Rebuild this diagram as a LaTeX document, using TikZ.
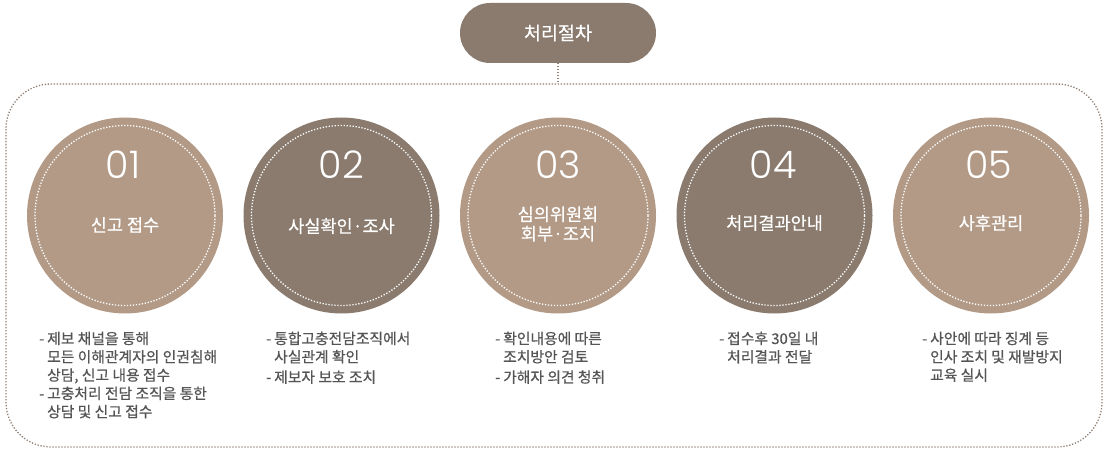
\documentclass[tikz,border=0pt]{standalone}
\usepackage{fontspec}
\setmainfont{Noto Sans CJK KR}
\newfontfamily\medfont{Noto Sans CJK KR}[FakeBold=0.6]
\newfontfamily\numfont{Poppins}[UprightFont={* Light}]
\definecolor{lightc}{HTML}{B29A87}
\definecolor{darkc}{HTML}{8A7B6E}
\definecolor{pillc}{HTML}{8B7B6E}
\definecolor{framec}{HTML}{8F8075}
\definecolor{txtc}{HTML}{555555}
\newcommand{\dsh}{\makebox[8pt][l]{-}}
\begin{document}
\begin{tikzpicture}[x=1pt,y=-1pt,
  frame/.style={draw=framec,line width=1.3pt,dash pattern=on 1.3pt off 1.7pt},
  disc/.style={circle,minimum size=196pt,inner sep=0pt},
  ring/.style={draw=white,line width=1.3pt,dash pattern=on 1.3pt off 1.7pt},
  numtxt/.style={text=white,font=\numfont\fontsize{38}{38}\selectfont,inner sep=0pt},
  labtxt/.style={text=white,font=\medfont\fontsize{17.5}{19.5}\selectfont,align=center,inner sep=0pt},
  desc/.style={anchor=north west,inner sep=0pt,text=txtc,font=\medfont\fontsize{14.8}{18.3}\selectfont}
]
\useasboundingbox (0,0) rectangle (1108,457);
% frame
\draw[frame,rounded corners=45pt] (6,84) rectangle (1102,447);
% header pill
\node[fill=pillc,rounded corners=30pt,minimum width=196pt,minimum height=60pt,
  text=white,font=\medfont\fontsize{18.5}{20}\selectfont] (head) at (558,33) {처리절차};
\coordinate (ftop) at (558,84);
\draw[frame] (head.south) -- (ftop);
% circles
\foreach \i/\x/\c in {1/125/lightc,2/341.5/darkc,3/558/lightc,4/774.5/darkc,5/991/lightc}{
  \node[disc,fill=\c] (c\i) at (\x,215.5) {};
  \draw[ring] (c\i.center) circle (90pt);
}
\node[numtxt] (n1) at (123,165) {01};
\node[numtxt] (n2) at (341.5,165) {02};
\node[numtxt] (n3) at (558,165) {03};
\node[numtxt] (n4) at (773,165) {04};
\node[numtxt] (n5) at (989,165) {05};
\node[labtxt] (l1) at (125,225) {신고 접수};
\node[labtxt] (l2) at (341.5,226) {사실확인·조사};
\node[labtxt] (l3) at (558,224) {심의위원회\\회부·조치};
\node[labtxt] (l4) at (774.5,223) {처리결과안내};
\node[labtxt] (l5) at (991,223) {사후관리};
% descriptions
\node[desc] (d1) at (39,331) {\begin{tabular}{@{}l@{}l@{}}\dsh&제보 채널을 통해\\ &모든 이해관계자의 인권침해\\ &상담, 신고 내용 접수\\\dsh&고충처리 전담 조직을 통한\\ &상담 및 신고 접수\end{tabular}};
\node[desc] (d2) at (266,331) {\begin{tabular}{@{}l@{}l@{}}\dsh&통합고충전담조직에서\\ &사실관계 확인\\[2pt]\dsh&제보자 보호 조치\end{tabular}};
\node[desc] (d3) at (495,331) {\begin{tabular}{@{}l@{}l@{}}\dsh&확인내용에 따른\\ &조치방안 검토\\[2pt]\dsh&가해자 의견 청취\end{tabular}};
\node[desc] (d4) at (719,331) {\begin{tabular}{@{}l@{}l@{}}\dsh&접수후 30일 내\\ &처리결과 전달\end{tabular}};
\node[desc] (d5) at (922,331) {\begin{tabular}{@{}l@{}l@{}}\dsh&사안에 따라 징계 등\\ &인사 조치 및 재발방지\\ &교육 실시\end{tabular}};
\end{tikzpicture}
\end{document}
